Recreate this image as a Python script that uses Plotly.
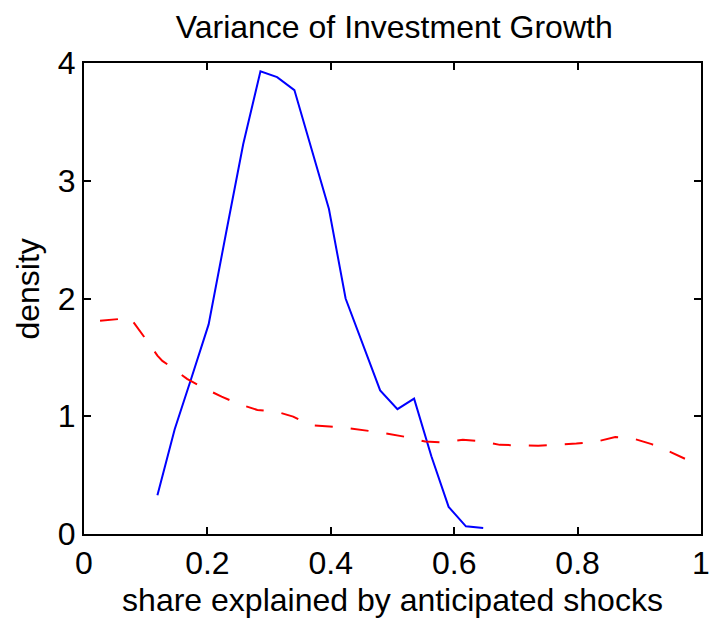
import plotly.graph_objects as go

# Density of the share explained by anticipated shocks (posterior vs prior)
posterior_x = [0.119, 0.147, 0.175, 0.202, 0.230, 0.258, 0.286, 0.313, 0.341, 0.369,
               0.397, 0.424, 0.452, 0.480, 0.508, 0.535, 0.563, 0.591, 0.619, 0.647]
posterior_y = [0.33, 0.89, 1.34, 1.78, 2.55, 3.31, 3.93, 3.88, 3.77, 3.27,
               2.76, 2.00, 1.61, 1.22, 1.06, 1.15, 0.66, 0.23, 0.065, 0.05]

prior_x = [0.026, 0.056, 0.075, 0.100, 0.119, 0.127, 0.142, 0.167, 0.194, 0.223,
           0.250, 0.281, 0.311, 0.339, 0.366, 0.398, 0.428, 0.487, 0.523, 0.553,
           0.584, 0.614, 0.644, 0.674, 0.707, 0.736, 0.769, 0.798, 0.831, 0.861,
           0.890, 0.920, 0.950, 0.974]
prior_y = [1.81, 1.826, 1.835, 1.656, 1.515, 1.47, 1.416, 1.317, 1.24, 1.167,
           1.105, 1.054, 1.04, 0.997, 0.924, 0.913, 0.90, 0.857, 0.823, 0.785,
           0.777, 0.80, 0.789, 0.757, 0.752, 0.749, 0.76, 0.768, 0.785, 0.823,
           0.811, 0.763, 0.698, 0.639]

x_ticks = [0, 0.2, 0.4, 0.6, 0.8, 1]
x_tick_text = ["0", "0.2", "0.4", "0.6", "0.8", "1"]
y_ticks = [0, 1, 2, 3, 4]

FONT = "Liberation Sans, Arial, Helvetica, sans-serif"
FS = 32

fig = go.Figure()
fig.add_trace(go.Scatter(x=posterior_x, y=posterior_y, mode="lines",
                         line=dict(color="#0000ff", width=2), showlegend=False))
fig.add_trace(go.Scatter(x=prior_x, y=prior_y, mode="lines",
                         line=dict(color="#ff0000", width=2, dash="18px,18px"),
                         showlegend=False))

axis_common = dict(showgrid=False, zeroline=False, showline=True, linecolor="black",
                   linewidth=2, mirror="ticks", ticks="inside", ticklen=7,
                   tickwidth=1.5, tickcolor="black", automargin=False,
                   ticklabeloverflow="allow",
                   tickfont=dict(family=FONT, size=FS, color="black"))

fig.update_xaxes(range=[0, 1], tickvals=x_ticks, ticktext=x_tick_text,
                 title=dict(text="share explained by anticipated shocks",
                            font=dict(family=FONT, size=FS, color="black"),
                            standoff=8),
                 **axis_common)
fig.update_yaxes(range=[0, 4], tickvals=y_ticks, **axis_common)

fig.add_annotation(text="density", xref="paper", yref="paper", x=-0.09, y=0.52,
                   xanchor="center", yanchor="middle", textangle=-90, showarrow=False,
                   font=dict(family=FONT, size=FS, color="black"))

fig.update_layout(
    width=709, height=620,
    margin=dict(l=84, r=8, t=63, b=86),
    paper_bgcolor="white", plot_bgcolor="white",
    title=dict(text="Variance of Investment Growth", x=0.556, xanchor="center",
               y=0.975, yref="container", yanchor="top",
               font=dict(family=FONT, size=FS, color="black")),
)

fig.write_html("out.html")
